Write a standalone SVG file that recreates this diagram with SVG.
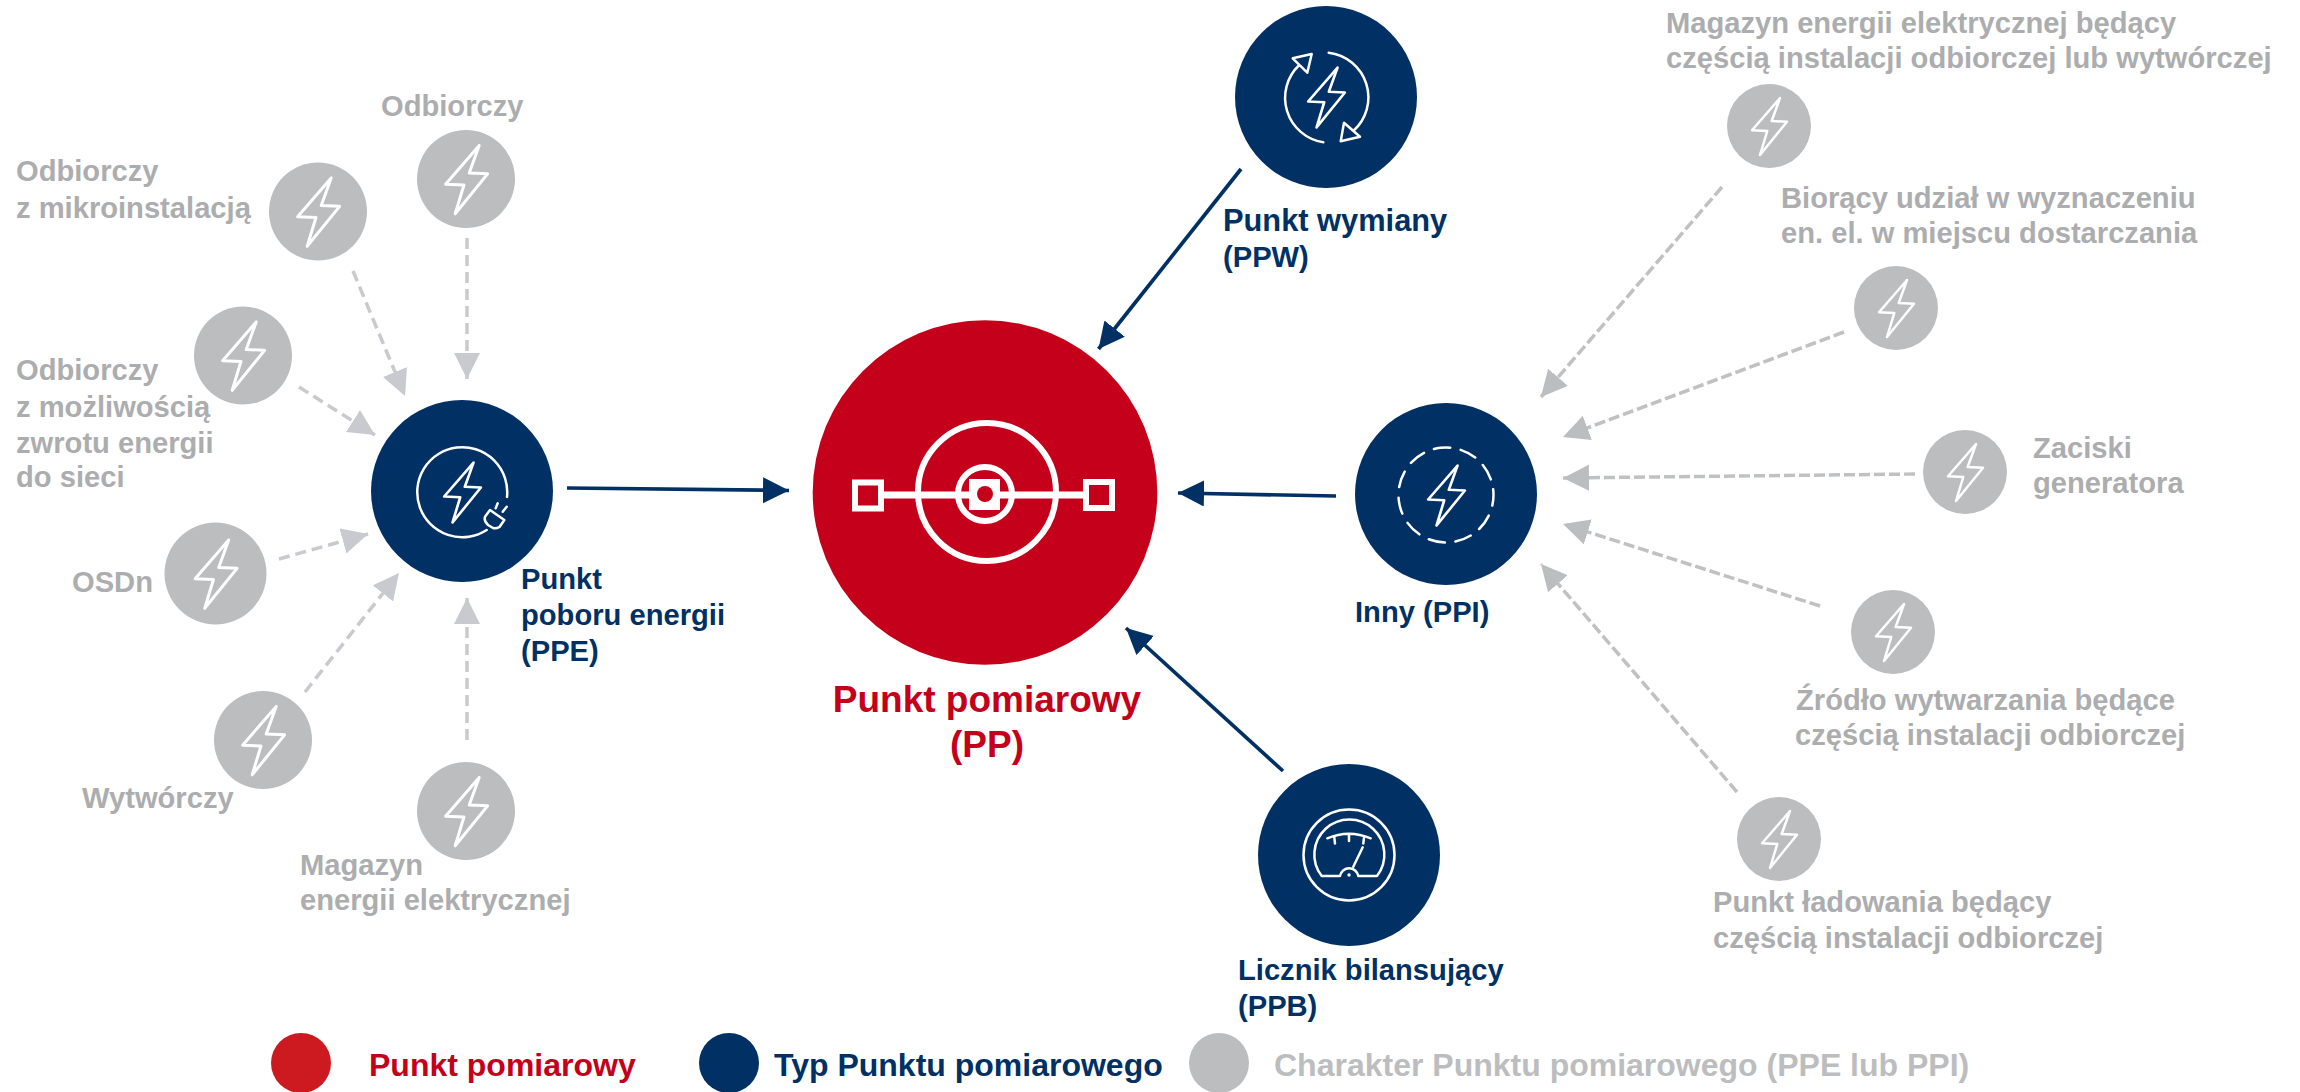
<svg xmlns="http://www.w3.org/2000/svg" width="2300" height="1092" viewBox="0 0 2300 1092">
<style>
text{font-family:"Liberation Sans",Arial,sans-serif;font-weight:700}
.g{fill:#acadaf;font-size:29.150px}
.b{fill:#003064;font-size:29.150px}
.gc{fill:#bcbdbf}
.nc{fill:#003064}
.ic{fill:none;stroke:#fff;stroke-width:2.500;stroke-linecap:round;stroke-linejoin:round}
.dl{fill:none;stroke:#c9cacf;stroke-width:3.500;stroke-dasharray:11 6}
.dr{fill:none;stroke:#c0c1c3;stroke-width:3.500;stroke-dasharray:11 4}
.solid{fill:none;stroke:#003064;stroke-width:3.700}
</style>
<defs>
<path id="bolt" class="ic" d="M11-28 2.700-5 18-4.300-9 29-1.700 5-17 4.300Z"/>
<marker id="agl" markerUnits="userSpaceOnUse" markerWidth="30" markerHeight="28" refX="26" refY="13" orient="auto"><path d="M0 0 26 13 0 26Z" fill="#c9cacf"/></marker>
<marker id="agr" markerUnits="userSpaceOnUse" markerWidth="30" markerHeight="28" refX="26" refY="13" orient="auto"><path d="M0 0 26 13 0 26Z" fill="#bcbdbf"/></marker>
<marker id="an" markerUnits="userSpaceOnUse" markerWidth="30" markerHeight="28" refX="26" refY="13" orient="auto"><path d="M0 0 26 13 0 26Z" fill="#003064"/></marker>
</defs>
<rect width="2300" height="1092" fill="#fff"/>
<g id="connectors">
<g class="dl" marker-end="url(#agl)">
<path d="M353 271 405 396"/>
<path d="M467 238V379"/>
<path d="M299 387 375 435"/>
<path d="M279 559 368 534"/>
<path d="M305 692 399 573"/>
<path d="M467 740V598"/>
</g>
<g class="dr" marker-end="url(#agr)">
<path d="M1722 187 1541 397"/>
<path d="M1844 332 1563 437"/>
<path d="M1915 474 1563 478"/>
<path d="M1820 606 1563 524"/>
<path d="M1737 792 1541 564"/>
</g>
<g class="solid" marker-end="url(#an)">
<path d="M567 488 789 490.500"/>
<path d="M1241 169 1098.500 349"/>
<path d="M1336 496 1178 493"/>
<path d="M1283 771 1126 628"/>
</g>
</g>
<g id="pp">
<circle cx="985" cy="492.500" r="172.300" fill="#c4001a"/>
<g fill="none" stroke="#fff" stroke-width="6">
<circle cx="987" cy="492" r="69"/>
<circle cx="985" cy="494" r="27"/>
<path d="M883 495H1084" stroke-width="7"/>
<rect x="855" y="482.500" width="26" height="26"/>
<rect x="1086" y="482" width="26" height="26"/>
</g>
<rect x="969" y="479" width="31" height="31" fill="#fff"/>
<circle cx="985" cy="494" r="8" fill="#c4001a"/>
<text x="987" y="712" text-anchor="middle" style="font-size:37px;fill:#c4001a">Punkt pomiarowy</text>
<text x="987" y="757" text-anchor="middle" style="font-size:37px;fill:#c4001a">(PP)</text>
</g>
<g id="ppe">
<circle class="nc" cx="462" cy="491" r="91"/>
<path class="ic" d="M507 497A45 45 0 1 0 486.700 530"/>
<use href="#bolt" transform="translate(462 492) scale(1.050)"/>
<path class="ic" d="M490 510 504.300 520 499.500 527Q496 529 493 528L488 525Q483 520 485.500 516ZM497.700 503.300 495.700 508.300M506.700 506.700 502.700 511.700"/>
<text class="b"><tspan x="521" y="589">Punkt</tspan><tspan x="521" y="625">poboru energii</tspan><tspan x="521" y="661">(PPE)</tspan></text>
</g>
<g id="ppw">
<circle class="nc" cx="1326" cy="97" r="91"/>
<use href="#bolt" transform="translate(1326 97) scale(1.050)"/>
<path class="ic" d="M1328.700 52.700A45 45 0 0 1 1353.300 131M1344 122.700 1340.700 141.300 1360 136.700ZM1323.300 142.300A45 45 0 0 1 1299.300 65M1292.700 58.300 1311.700 54 1307.300 72.700Z"/>
<text class="b"><tspan x="1223" y="231" style="font-size:30.800px">Punkt wymiany</tspan><tspan x="1223" y="267">(PPW)</tspan></text>
</g>
<g id="ppi">
<circle class="nc" cx="1446" cy="494" r="91"/>
<use href="#bolt" transform="translate(1446 495) scale(1.050)"/>
<circle class="ic" cx="1446" cy="495" r="47.500" stroke-dasharray="16.500 10.630" transform="rotate(-7 1446 495)"/>
<text class="b" x="1355" y="622">Inny (PPI)</text>
</g>
<g id="ppb">
<circle class="nc" cx="1349" cy="855" r="91"/>
<g class="ic">
<circle cx="1349" cy="855" r="45.500"/>
<path d="M1321.700 876A35 35 0 1 1 1377 876H1358.300A9.300 9.300 0 0 0 1340 876Z"/>
<path d="M1327.300 838.300Q1349 829 1370.700 838.300M1334.300 837.300 1335 843.500M1349 835V841M1364 837.300 1363.300 843.500M1353.300 866.700 1362.700 847.300"/>
</g>
<circle cx="1349" cy="875" r="1.700" fill="#fff"/>
<text class="b"><tspan x="1238" y="980">Licznik bilansujący</tspan><tspan x="1238" y="1016">(PPB)</tspan></text>
</g>
<g id="n-mikro"><circle class="gc" cx="318" cy="211.500" r="49"/><use href="#bolt" transform="translate(318 211.500) scale(1.200)"/>
<text class="g"><tspan x="16" y="181">Odbiorczy</tspan><tspan x="16" y="217.500">z mikroinstalacją</tspan></text></g>
<g id="n-odb"><circle class="gc" cx="466" cy="179" r="49"/><use href="#bolt" transform="translate(466 179) scale(1.200)"/>
<text class="g" x="381" y="116">Odbiorczy</text></g>
<g id="n-zwrot"><circle class="gc" cx="243" cy="355.500" r="49"/><use href="#bolt" transform="translate(243 355.500) scale(1.200)"/>
<text class="g"><tspan x="16" y="380">Odbiorczy</tspan><tspan x="16" y="417">z możliwością</tspan><tspan x="16" y="453">zwrotu energii</tspan><tspan x="16" y="487">do sieci</tspan></text></g>
<g id="n-osdn"><circle class="gc" cx="215.500" cy="573.500" r="51"/><use href="#bolt" transform="translate(215.500 573.500) scale(1.200)"/>
<text class="g" x="72" y="592">OSDn</text></g>
<g id="n-wyt"><circle class="gc" cx="263" cy="740" r="49"/><use href="#bolt" transform="translate(263 740) scale(1.200)"/>
<text class="g" x="82" y="808">Wytwórczy</text></g>
<g id="n-mag"><circle class="gc" cx="466" cy="811" r="49"/><use href="#bolt" transform="translate(466 811) scale(1.200)"/>
<text class="g"><tspan x="300" y="875">Magazyn</tspan><tspan x="300" y="909.500">energii elektrycznej</tspan></text></g>
<g id="n-r1"><circle class="gc" cx="1769" cy="126" r="42"/><use href="#bolt" x="1769" y="126"/>
<text class="g"><tspan x="1666" y="33">Magazyn energii elektrycznej będący</tspan><tspan x="1666" y="68">częścią instalacji odbiorczej lub wytwórczej</tspan></text></g>
<g id="n-r2"><circle class="gc" cx="1896" cy="308" r="42"/><use href="#bolt" x="1896" y="308"/>
<text class="g"><tspan x="1781" y="208">Biorący udział w wyznaczeniu</tspan><tspan x="1781" y="243">en. el. w miejscu dostarczania</tspan></text></g>
<g id="n-r3"><circle class="gc" cx="1965" cy="472" r="42"/><use href="#bolt" x="1965" y="472"/>
<text class="g"><tspan x="2033" y="458">Zaciski</tspan><tspan x="2033" y="493">generatora</tspan></text></g>
<g id="n-r4"><circle class="gc" cx="1893" cy="632" r="42"/><use href="#bolt" x="1893" y="632"/>
<text class="g"><tspan x="1796" y="710">Źródło wytwarzania będące</tspan><tspan x="1795" y="745">częścią instalacji odbiorczej</tspan></text></g>
<g id="n-r5"><circle class="gc" cx="1779" cy="839" r="42"/><use href="#bolt" x="1779" y="839"/>
<text class="g"><tspan x="1713" y="912">Punkt ładowania będący</tspan><tspan x="1713" y="948">częścią instalacji odbiorczej</tspan></text></g>
<g id="legend">
<circle cx="301" cy="1063" r="30" fill="#cc1a20"/>
<text x="369" y="1076" style="font-size:32px;fill:#c4001a">Punkt pomiarowy</text>
<circle cx="729" cy="1063" r="30" fill="#003064"/>
<text x="774" y="1076" style="font-size:32px;fill:#003064">Typ Punktu pomiarowego</text>
<circle cx="1219" cy="1063" r="30" fill="#bcbdbf"/>
<text x="1274" y="1076" style="font-size:32px;fill:#bcbdbf">Charakter Punktu pomiarowego (PPE lub PPI)</text>
</g>
</svg>
